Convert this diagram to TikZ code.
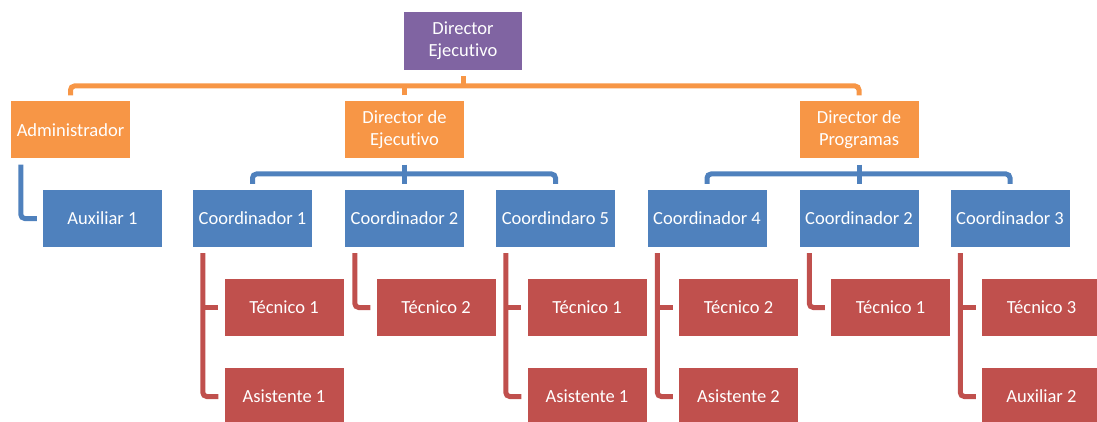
\documentclass[tikz,border=0pt]{standalone}
\usepackage{fontspec}
\setmainfont[Ligatures=NoCommon]{Carlito}
\usetikzlibrary{positioning}
\definecolor{cpurple}{HTML}{8064A2}
\definecolor{corange}{HTML}{F79646}
\definecolor{cblue}{HTML}{4F81BD}
\definecolor{cred}{HTML}{C0504D}

\tikzset{
  box/.style={minimum width=119pt, minimum height=57pt, inner sep=0pt, text=white, align=center, font=\fontsize{18.5}{22}\selectfont},
  lvlzero/.style={box, fill=cpurple},
  lvlone/.style={box, fill=corange},
  lvltwo/.style={box, fill=cblue},
  lvlthree/.style={box, fill=cred},
  conn/.style={line width=5pt, rounded corners=4pt},
  oline/.style={conn, corange},
  bline/.style={conn, cblue},
  rline/.style={conn, cred},
}

\begin{document}
\begin{tikzpicture}[x=1pt,y=1pt]
\useasboundingbox (0,0) rectangle (1097,-422);

% top
\node[lvlzero, minimum width=118pt, minimum height=58pt] (dirEj) at (463,-41) {Director\\Ejecutivo};

% orange level
\node[lvlone] (admin) at (70.5,-130) {Administrador};
\node[lvlone] (dirEx) at (404.5,-130) {Director de\\Ejecutivo};
\node[lvlone] (dirProg) at (859,-130) {Director de\\Programas};

% blue level
\node[lvltwo] (aux1) at (102.5,-218.5) {Auxiliar 1};
\node[lvltwo] (c1) at (252.5,-218.5) {Coordinador 1};
\node[lvltwo] (c2) at (404.5,-218.5) {Coordinador 2};
\node[lvltwo] (c3) at (555.5,-218.5) {Coordindaro 5};
\node[lvltwo] (c4) at (707,-218.5) {Coordinador 4};
\node[lvltwo] (c5) at (859,-218.5) {Coordinador 2};
\node[lvltwo] (c6) at (1010,-218.5) {Coordinador 3};

% red level
\node[lvlthree] (t1) at (284,-307.5) {Técnico 1};
\node[lvlthree] (a1) at (284,-396.5) {Asistente 1};
\node[lvlthree] (t2) at (436,-307.5) {Técnico 2};
\node[lvlthree] (t3) at (587,-307.5) {Técnico 1};
\node[lvlthree] (a3) at (587,-396.5) {Asistente 1};
\node[lvlthree] (t4) at (738.5,-307.5) {Técnico 2};
\node[lvlthree] (a4) at (738.5,-396.5) {Asistente 2};
\node[lvlthree] (t5) at (890.5,-307.5) {Técnico 1};
\node[lvlthree] (t6) at (1041.5,-307.5) {Técnico 3};
\node[lvlthree] (a6) at (1041.5,-396.5) {Auxiliar 2};

% orange connectors
\coordinate (obar) at (463,-86);
\draw[oline] ([yshift=6pt]admin.north) |- (obar) -| ([yshift=6pt]dirProg.north);
\draw[oline] ([yshift=-6pt]dirEj.south) -- (obar);
\draw[oline] ([yshift=6pt]dirEx.north) -- (dirEx.north |- obar);

% blue connectors
\coordinate (bbarL) at (404.5,-174);
\coordinate (bbarR) at (859,-174);
\draw[bline] ([yshift=6pt]c1.north) |- (bbarL) -| ([yshift=6pt]c3.north);
\draw[bline] ([yshift=-6pt]dirEx.south) -- ([yshift=6pt]c2.north);
\draw[bline] ([yshift=6pt]c4.north) |- (bbarR) -| ([yshift=6pt]c6.north);
\draw[bline] ([yshift=-6pt]dirProg.south) -- ([yshift=6pt]c5.north);
\draw[bline] ([xshift=10pt,yshift=-6pt]admin.south west) |- ([xshift=-6pt]aux1.west);

% red connectors
\coordinate (r1) at ([xshift=10pt,yshift=-6pt]c1.south west);
\coordinate (r2) at ([xshift=10pt,yshift=-6pt]c2.south west);
\coordinate (r3) at ([xshift=10pt,yshift=-6pt]c3.south west);
\coordinate (r4) at ([xshift=10pt,yshift=-6pt]c4.south west);
\coordinate (r5) at ([xshift=10pt,yshift=-6pt]c5.south west);
\coordinate (r6) at ([xshift=10pt,yshift=-6pt]c6.south west);
\draw[rline] (r1) |- ([xshift=-6pt]a1.west);
\draw[rline] (r1 |- t1.west) -- ([xshift=-6pt]t1.west);
\draw[rline] (r2) |- ([xshift=-6pt]t2.west);
\draw[rline] (r3) |- ([xshift=-6pt]a3.west);
\draw[rline] (r3 |- t3.west) -- ([xshift=-6pt]t3.west);
\draw[rline] (r4) |- ([xshift=-6pt]a4.west);
\draw[rline] (r4 |- t4.west) -- ([xshift=-6pt]t4.west);
\draw[rline] (r5) |- ([xshift=-6pt]t5.west);
\draw[rline] (r6) |- ([xshift=-6pt]a6.west);
\draw[rline] (r6 |- t6.west) -- ([xshift=-6pt]t6.west);

\end{tikzpicture}
\end{document}
